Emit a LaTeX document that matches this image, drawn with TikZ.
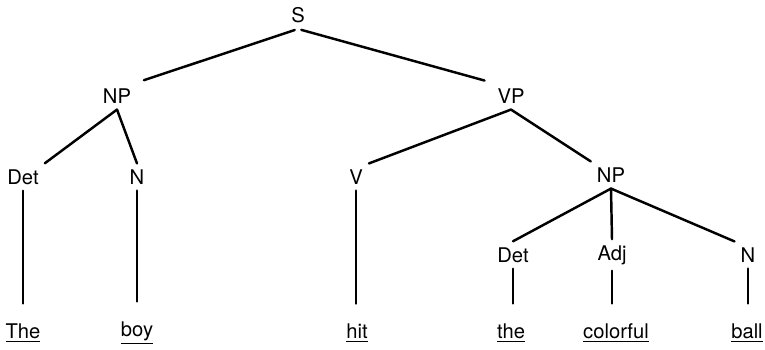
\documentclass[tikz,border=0pt]{standalone}
\usepackage{fontspec}
\setsansfont{TeX Gyre Heros}
\usepackage{tikz}

\tikzset{
  cat/.style={font=\sffamily\fontsize{11.5}{13}\selectfont},
  word/.style={font=\sffamily\fontsize{11.5}{13}\selectfont},
  branch/.style={line width=1.4pt, line cap=round},
}

\begin{document}
\begin{tikzpicture}
\useasboundingbox (0,0) rectangle (15.3,6.98);
% categories
\node[cat] (s)    at (5.96,6.68)  {S};
\node[cat] (np)   at (2.34,5.06)  {NP};
\node[cat] (vp)   at (10.22,5.06) {VP};
\node[cat] (det)  at (0.46,3.44)  {Det};
\node[cat] (n)    at (2.74,3.44)  {N};
\node[cat] (v)    at (7.12,3.44)  {V};
\node[cat] (npb)  at (12.22,3.48) {NP};
\node[cat] (detb) at (10.26,1.88) {Det};
\node[cat] (adj)  at (12.24,1.88) {Adj};
\node[cat] (nb)   at (14.96,1.88) {N};
% words
\node[word] (the)      at (0.46,0.32)  {\underline{The}};
\node[word] (boy)      at (2.74,0.32)  {\underline{boy}};
\node[word] (hit)      at (7.14,0.32)  {\underline{hit}};
\node[word] (theb)     at (10.22,0.32) {\underline{the}};
\node[word] (colorful) at (12.32,0.32) {\underline{colorful}};
\node[word] (ball)     at (14.94,0.32) {\underline{ball}};
% branches
\draw[branch, shorten <=2pt, shorten >=4pt] (s.south) -- (np.north east);
\draw[branch, shorten <=2pt, shorten >=4pt] (s.south) -- (vp.north west);
\draw[branch] (np.south) -- (det.north east);
\draw[branch] (np.south) -- (n.north);
\draw[branch] (vp.south) -- (v.north east);
\draw[branch] (vp.south) -- (npb.north west);
\draw[branch] (npb.south) -- (detb.north);
\draw[branch] (npb.south) -- (adj.north);
\draw[branch] (npb.south) -- (nb.north west);
% leaves
\draw[branch, shorten >=0.28cm] (det.south) -- (det.south |- the.north);
\draw[branch, shorten >=0.28cm] (n.south) -- (n.south |- boy.north);
\draw[branch, shorten >=0.28cm] (v.south) -- (v.south |- hit.north);
\draw[branch, shorten >=0.28cm] (detb.south) -- (detb.south |- theb.north);
\draw[branch, shorten >=0.28cm] (adj.south) -- (adj.south |- colorful.north);
\draw[branch, shorten >=0.28cm] (nb.south) -- (nb.south |- ball.north);
\end{tikzpicture}
\end{document}
